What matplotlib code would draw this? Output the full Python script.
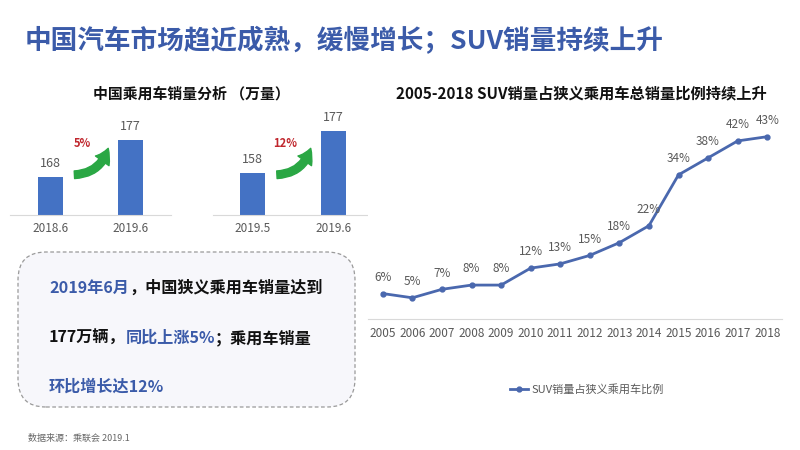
import matplotlib
matplotlib.use("Agg")
import matplotlib.pyplot as plt
from matplotlib.patches import FancyBboxPatch, FancyArrowPatch
from matplotlib.lines import Line2D
from matplotlib.transforms import IdentityTransform

plt.rcParams['font.family'] = ['Noto Sans CJK SC', 'DejaVu Sans']

# data
yoy_labels = ['2018.6', '2019.6']
yoy_values = [168, 177]
mom_labels = ['2019.5', '2019.6']
mom_values = [158, 177]
years = [2005, 2006, 2007, 2008, 2009, 2010, 2011, 2012, 2013, 2014, 2015, 2016, 2017, 2018]
suv_share = [6, 5, 7, 8, 8, 12, 13, 15, 18, 22, 34, 38, 42, 43]

BLUE = '#4472C4'
LINE_BLUE = '#4A68AE'
TITLE_BLUE = '#3B5BA9'
GREY = '#595959'
AXIS_GREY = '#D9D9D9'

W, H = 800, 450
fig = plt.figure(figsize=(8, 4.5), dpi=100)
fig.patch.set_facecolor('white')


def fx(px):
    return px / W


def fy(py):
    return 1 - py / H


fig.text(fx(25), fy(41), '中国汽车市场趋近成熟，缓慢增长；SUV销量持续上升',
         fontsize=19.2, fontweight='bold', color=TITLE_BLUE, va='center', ha='left')

fig.text(fx(191), fy(94), '中国乘用车销量分析 （万量）', fontsize=10.7,
         fontweight='bold', color='#111111', ha='center', va='center')


def bar_panel(left_px, labels, values, ylo, yhi, pct):
    ax = fig.add_axes([fx(left_px), fy(215), fx(161), (215 - 100) / H])
    ax.bar(range(len(values)), values, width=0.31, color=BLUE)
    ax.set_xlim(-0.5, 1.5)
    ax.set_ylim(ylo, yhi)
    for s in ['top', 'right', 'left']:
        ax.spines[s].set_visible(False)
    ax.spines['bottom'].set_color(AXIS_GREY)
    ax.set_yticks([])
    ax.set_xticks(range(len(labels)))
    ax.set_xticklabels(labels, fontsize=8.5, color=GREY)
    ax.tick_params(axis='x', length=0, pad=5)
    for i, v in enumerate(values):
        ax.annotate(str(v), (i, v), xytext=(0, 5), textcoords='offset points',
                    ha='center', va='bottom', fontsize=9, color=GREY)
    ax.text(0.45, 0.62, pct, transform=ax.transAxes, fontsize=8, fontweight='bold',
            color='#C0262D', ha='center', va='center')
    # green swoosh arrow
    arrow = FancyArrowPatch((0.40, 0.35), (0.61, 0.58), transform=ax.transAxes,
                            connectionstyle='arc3,rad=0.35', shrinkA=0, shrinkB=0,
                            arrowstyle='simple,head_width=12,head_length=10,tail_width=5.5',
                            color='#2AA744', clip_on=False)
    ax.add_patch(arrow)
    return ax


bar_panel(10, yoy_labels, yoy_values, 158.7, 158.7 + 115 / 4.1, '5%')
bar_panel(212.5, mom_labels, mom_values, 139, 139 + 115 / 2.2, '12%')

# text box
box = FancyBboxPatch((18, H - 407), 337, 155, boxstyle='round,pad=0,rounding_size=28',
                     transform=IdentityTransform(), facecolor='#F7F7FB',
                     edgecolor='#9A9A9A', linestyle=(0, (3, 2)), linewidth=0.9)
fig.patches.append(box)

text_lines = [
    [('2019年6月', TITLE_BLUE), ('，中国狭义乘用车销量达到', '#111111')],
    [('177万辆，', '#111111'), ('同比上涨5%', TITLE_BLUE), ('；乘用车销量', '#111111')],
    [('环比增长达12%', TITLE_BLUE)],
]
line_y = [288, 338, 387]
for parts, ypx in zip(text_lines, line_y):
    prev = None
    for s, c in parts:
        if prev is None:
            prev = fig.text(fx(49), fy(ypx), s, fontsize=11.6, fontweight='bold',
                            color=c, ha='left', va='center')
        else:
            prev = fig.add_artist(plt.Annotation(s, xy=(1, 0.5), xycoords=prev,
                                                 fontsize=11.6, fontweight='bold', color=c,
                                                 ha='left', va='center'))

fig.text(fx(28), fy(438), '数据来源：乘联会 2019.1', fontsize=6.5, color='#666666',
         ha='left', va='center')

# line chart
ax3 = fig.add_axes([fx(368), fy(319), fx(414), (319 - 107) / H])
ax3.plot(years, suv_share, color=LINE_BLUE, linewidth=2, marker='o', markersize=3.5)
ax3.set_xlim(2004.5, 2018.5)
ax3.set_ylim(0, 50)
for s in ['top', 'right', 'left']:
    ax3.spines[s].set_visible(False)
ax3.spines['bottom'].set_color(AXIS_GREY)
ax3.set_yticks([])
ax3.set_xticks(years)
ax3.set_xticklabels([str(y) for y in years], fontsize=8.5, color=GREY)
ax3.tick_params(axis='x', length=0, pad=6)
for x, v in zip(years, suv_share):
    ax3.annotate(f'{v}%', (x, v), xytext=(0, 7), textcoords='offset points',
                 ha='center', va='bottom', fontsize=8.5, color=GREY)

fig.text(fx(581), fy(93), '2005-2018 SUV销量占狭义乘用车总销量比例持续上升',
         fontsize=11, fontweight='bold', color='#111111', ha='center', va='center')

handle = Line2D([], [], color=LINE_BLUE, linewidth=2, marker='o', markersize=3.5)
fig.legend([handle], ['SUV销量占狭义乘用车比例'], loc='center',
           bbox_to_anchor=(fx(587), fy(389)), frameon=False, fontsize=8,
           handlelength=1.6, handletextpad=0.3, labelcolor=GREY)

fig.savefig('out.png', dpi=100)
